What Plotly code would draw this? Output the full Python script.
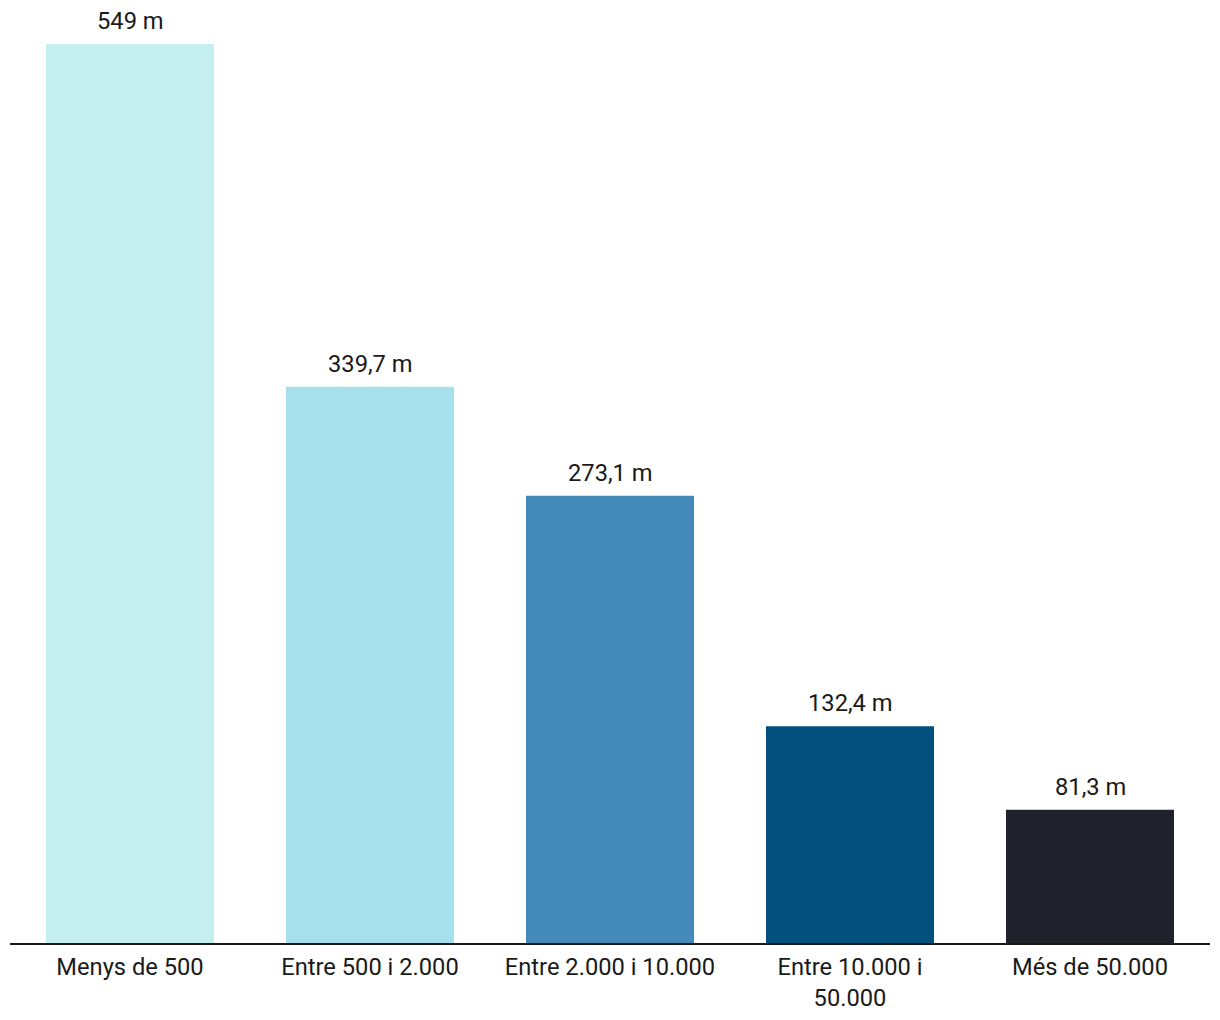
import plotly.graph_objects as go

categories = ["Menys de 500", "Entre 500 i 2.000", "Entre 2.000 i 10.000",
              "Entre 10.000 i<br>50.000", "Més de 50.000"]
values = [549, 339.7, 273.1, 132.4, 81.3]
colors = ["#C5EFF0", "#A5E0EC", "#448BBB", "#03507E", "#1F222A"]

def fmt(v):
    s = f"{v:g}".replace(".", ",")
    return f"{s} m"

labels = [fmt(v) for v in values]

FONT = dict(family="Roboto", size=23.7, color="#1a1a1a")

fig = go.Figure(go.Bar(
    x=categories, y=values, marker=dict(color=colors, line=dict(width=0)),
    hoverinfo="skip",
))

for c, v, t in zip(categories, values, labels):
    fig.add_annotation(x=c, y=v, text=t, showarrow=False, yanchor="bottom",
                       yshift=8, borderpad=0, font=FONT)

fig.update_layout(
    width=1204, height=1004,
    margin=dict(l=2, r=2, t=36, b=69, autoexpand=False),
    plot_bgcolor="white", paper_bgcolor="white",
    bargap=0.3, showlegend=False,
    font=FONT,
)
fig.update_xaxes(showline=True, linecolor="#1a1a1a", linewidth=2,
                 ticks="outside", ticklen=2, tickcolor="rgba(0,0,0,0)",
                 automargin=False,
                 showgrid=False, tickfont=FONT)
fig.update_yaxes(range=[0, 549], visible=False, showgrid=False, zeroline=False,
                 automargin=False)

fig.write_html("out.html")
